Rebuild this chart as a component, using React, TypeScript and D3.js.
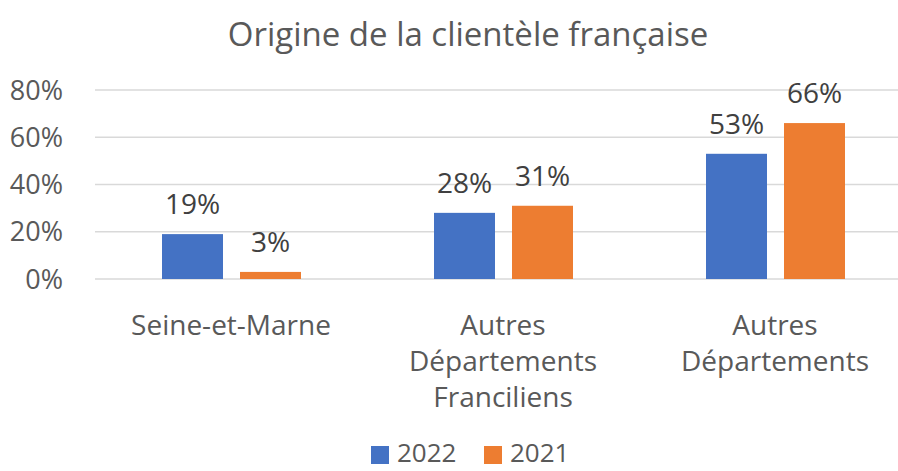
import React from "react";
import * as d3 from "d3";

const categories = [["Seine-et-Marne"], ["Autres", "Départements", "Franciliens"], ["Autres", "Départements"]];
const series = ["2022", "2021"];
const values2022 = [0.19, 0.28, 0.53];
const values2021 = [0.03, 0.31, 0.66];
const yTicks = [0, 0.2, 0.4, 0.6, 0.8];
const colors = ["#4472c4", "#ed7d31"];

const W = 898;
const H = 471;
const FONT = "'Open Sans', 'Noto Sans', sans-serif";

export default function App() {
  const keys = categories.map((c) => c.join(" "));
  const x0 = d3.scaleBand<string>().domain(keys).range([95, 911]).padding(0);
  const x1 = d3.scaleBand<string>().domain(series).range([67, 206]).paddingInner(0.218).paddingOuter(0);
  const y = d3.scaleLinear().domain([0, 0.8]).range([279, 90]);
  const fmt = d3.format(".0%");
  const allValues = [values2022, values2021];

  return (
    <svg width={W} height={H} style={{ position: "absolute", left: 0, top: 0, background: "#fff" }} fontFamily={FONT}>
      <text x={468} y={46} textAnchor="middle" fontSize={33} fill="#595959">
        Origine de la clientèle française
      </text>

      {/* grid + y ticks */}
      {yTicks.map((t) => (
        <g key={t}>
          <line x1={95} x2={W} y1={y(t)} y2={y(t)} stroke="#d9d9d9" strokeWidth={1.5} />
          <text x={63} y={y(t)} dy="0.36em" textAnchor="end" fontSize={27} fill="#595959">
            {fmt(t)}
          </text>
        </g>
      ))}

      {/* bars */}
      {keys.map((k, i) => (
        <g key={k} transform={`translate(${x0(k)},0)`}>
          {series.map((s, j) => {
            const v = allValues[j][i];
            return (
              <g key={s}>
                <rect x={x1(s)} y={y(v)} width={x1.bandwidth()} height={y(0) - y(v)} fill={colors[j]} />
                <text x={(x1(s) ?? 0) + x1.bandwidth() / 2} y={y(v) - 20} textAnchor="middle" fontSize={28} fill="#404040">
                  {fmt(v)}
                </text>
              </g>
            );
          })}
        </g>
      ))}

      {/* category labels */}
      {categories.map((lines, i) => (
        <text key={i} x={(x0(keys[i]) ?? 0) + x0.bandwidth() / 2} y={335} textAnchor="middle" fontSize={28} fill="#595959">
          {lines.map((l, li) => (
            <tspan key={li} x={(x0(keys[i]) ?? 0) + x0.bandwidth() / 2} dy={li === 0 ? 0 : 36}>
              {l}
            </tspan>
          ))}
        </text>
      ))}

      {/* legend */}
      {series.map((s, j) => (
        <g key={s} transform={`translate(${371 + j * 113},0)`}>
          <rect x={0} y={446} width={18} height={18} fill={colors[j]} />
          <text x={26} y={462} fontSize={26} fill="#595959">
            {s}
          </text>
        </g>
      ))}
    </svg>
  );
}
